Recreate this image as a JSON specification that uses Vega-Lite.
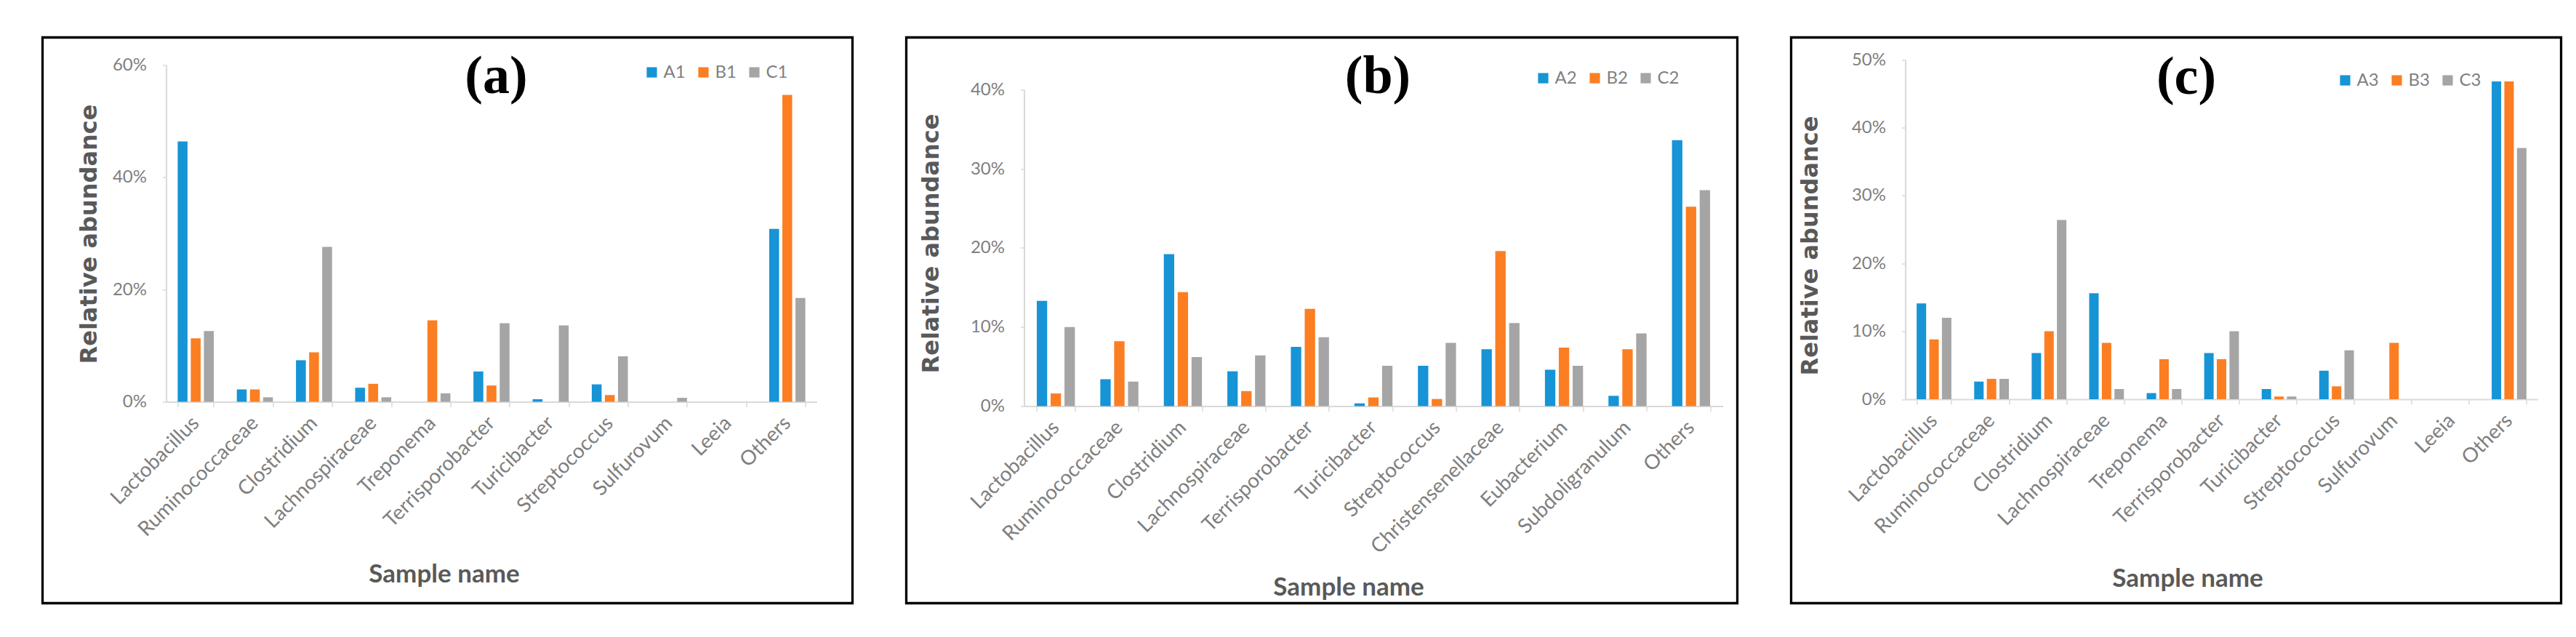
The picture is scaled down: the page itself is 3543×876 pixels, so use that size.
{
  "$schema": "https://vega.github.io/schema/vega-lite/v6.json",
  "background": "white",
  "padding": {"left": 46.5, "top": 49.5, "right": 5, "bottom": 5},
  "spacing": 60,
  "datasets": {
    "abund": [
      {"panel": "a", "taxon": "Lactobacillus", "sample": "A1", "value": 46.4},
      {"panel": "a", "taxon": "Lactobacillus", "sample": "B1", "value": 11.3},
      {"panel": "a", "taxon": "Lactobacillus", "sample": "C1", "value": 12.6},
      {"panel": "a", "taxon": "Ruminococcaceae", "sample": "A1", "value": 2.2},
      {"panel": "a", "taxon": "Ruminococcaceae", "sample": "B1", "value": 2.2},
      {"panel": "a", "taxon": "Ruminococcaceae", "sample": "C1", "value": 0.8},
      {"panel": "a", "taxon": "Clostridium", "sample": "A1", "value": 7.4},
      {"panel": "a", "taxon": "Clostridium", "sample": "B1", "value": 8.8},
      {"panel": "a", "taxon": "Clostridium", "sample": "C1", "value": 27.6},
      {"panel": "a", "taxon": "Lachnospiraceae", "sample": "A1", "value": 2.5},
      {"panel": "a", "taxon": "Lachnospiraceae", "sample": "B1", "value": 3.2},
      {"panel": "a", "taxon": "Lachnospiraceae", "sample": "C1", "value": 0.8},
      {"panel": "a", "taxon": "Treponema", "sample": "A1", "value": 0},
      {"panel": "a", "taxon": "Treponema", "sample": "B1", "value": 14.5},
      {"panel": "a", "taxon": "Treponema", "sample": "C1", "value": 1.5},
      {"panel": "a", "taxon": "Terrisporobacter", "sample": "A1", "value": 5.4},
      {"panel": "a", "taxon": "Terrisporobacter", "sample": "B1", "value": 2.9},
      {"panel": "a", "taxon": "Terrisporobacter", "sample": "C1", "value": 14.0},
      {"panel": "a", "taxon": "Turicibacter", "sample": "A1", "value": 0.45},
      {"panel": "a", "taxon": "Turicibacter", "sample": "B1", "value": 0},
      {"panel": "a", "taxon": "Turicibacter", "sample": "C1", "value": 13.6},
      {"panel": "a", "taxon": "Streptococcus", "sample": "A1", "value": 3.1},
      {"panel": "a", "taxon": "Streptococcus", "sample": "B1", "value": 1.2},
      {"panel": "a", "taxon": "Streptococcus", "sample": "C1", "value": 8.1},
      {"panel": "a", "taxon": "Sulfurovum", "sample": "A1", "value": 0},
      {"panel": "a", "taxon": "Sulfurovum", "sample": "B1", "value": 0},
      {"panel": "a", "taxon": "Sulfurovum", "sample": "C1", "value": 0.7},
      {"panel": "a", "taxon": "Leeia", "sample": "A1", "value": 0},
      {"panel": "a", "taxon": "Leeia", "sample": "B1", "value": 0},
      {"panel": "a", "taxon": "Leeia", "sample": "C1", "value": 0},
      {"panel": "a", "taxon": "Others", "sample": "A1", "value": 30.8},
      {"panel": "a", "taxon": "Others", "sample": "B1", "value": 54.7},
      {"panel": "a", "taxon": "Others", "sample": "C1", "value": 18.5},

      {"panel": "b", "taxon": "Lactobacillus", "sample": "A2", "value": 13.3},
      {"panel": "b", "taxon": "Lactobacillus", "sample": "B2", "value": 1.6},
      {"panel": "b", "taxon": "Lactobacillus", "sample": "C2", "value": 10.0},
      {"panel": "b", "taxon": "Ruminococcaceae", "sample": "A2", "value": 3.4},
      {"panel": "b", "taxon": "Ruminococcaceae", "sample": "B2", "value": 8.2},
      {"panel": "b", "taxon": "Ruminococcaceae", "sample": "C2", "value": 3.1},
      {"panel": "b", "taxon": "Clostridium", "sample": "A2", "value": 19.2},
      {"panel": "b", "taxon": "Clostridium", "sample": "B2", "value": 14.4},
      {"panel": "b", "taxon": "Clostridium", "sample": "C2", "value": 6.2},
      {"panel": "b", "taxon": "Lachnospiraceae", "sample": "A2", "value": 4.4},
      {"panel": "b", "taxon": "Lachnospiraceae", "sample": "B2", "value": 1.9},
      {"panel": "b", "taxon": "Lachnospiraceae", "sample": "C2", "value": 6.4},
      {"panel": "b", "taxon": "Terrisporobacter", "sample": "A2", "value": 7.5},
      {"panel": "b", "taxon": "Terrisporobacter", "sample": "B2", "value": 12.3},
      {"panel": "b", "taxon": "Terrisporobacter", "sample": "C2", "value": 8.7},
      {"panel": "b", "taxon": "Turicibacter", "sample": "A2", "value": 0.35},
      {"panel": "b", "taxon": "Turicibacter", "sample": "B2", "value": 1.1},
      {"panel": "b", "taxon": "Turicibacter", "sample": "C2", "value": 5.1},
      {"panel": "b", "taxon": "Streptococcus", "sample": "A2", "value": 5.1},
      {"panel": "b", "taxon": "Streptococcus", "sample": "B2", "value": 0.9},
      {"panel": "b", "taxon": "Streptococcus", "sample": "C2", "value": 8.0},
      {"panel": "b", "taxon": "Christensenellaceae", "sample": "A2", "value": 7.2},
      {"panel": "b", "taxon": "Christensenellaceae", "sample": "B2", "value": 19.6},
      {"panel": "b", "taxon": "Christensenellaceae", "sample": "C2", "value": 10.5},
      {"panel": "b", "taxon": "Eubacterium", "sample": "A2", "value": 4.6},
      {"panel": "b", "taxon": "Eubacterium", "sample": "B2", "value": 7.4},
      {"panel": "b", "taxon": "Eubacterium", "sample": "C2", "value": 5.1},
      {"panel": "b", "taxon": "Subdoligranulum", "sample": "A2", "value": 1.3},
      {"panel": "b", "taxon": "Subdoligranulum", "sample": "B2", "value": 7.2},
      {"panel": "b", "taxon": "Subdoligranulum", "sample": "C2", "value": 9.2},
      {"panel": "b", "taxon": "Others", "sample": "A2", "value": 33.6},
      {"panel": "b", "taxon": "Others", "sample": "B2", "value": 25.2},
      {"panel": "b", "taxon": "Others", "sample": "C2", "value": 27.3},

      {"panel": "c", "taxon": "Lactobacillus", "sample": "A3", "value": 14.1},
      {"panel": "c", "taxon": "Lactobacillus", "sample": "B3", "value": 8.8},
      {"panel": "c", "taxon": "Lactobacillus", "sample": "C3", "value": 12.0},
      {"panel": "c", "taxon": "Ruminococcaceae", "sample": "A3", "value": 2.6},
      {"panel": "c", "taxon": "Ruminococcaceae", "sample": "B3", "value": 3.0},
      {"panel": "c", "taxon": "Ruminococcaceae", "sample": "C3", "value": 3.0},
      {"panel": "c", "taxon": "Clostridium", "sample": "A3", "value": 6.8},
      {"panel": "c", "taxon": "Clostridium", "sample": "B3", "value": 10.0},
      {"panel": "c", "taxon": "Clostridium", "sample": "C3", "value": 26.4},
      {"panel": "c", "taxon": "Lachnospiraceae", "sample": "A3", "value": 15.6},
      {"panel": "c", "taxon": "Lachnospiraceae", "sample": "B3", "value": 8.3},
      {"panel": "c", "taxon": "Lachnospiraceae", "sample": "C3", "value": 1.5},
      {"panel": "c", "taxon": "Treponema", "sample": "A3", "value": 0.9},
      {"panel": "c", "taxon": "Treponema", "sample": "B3", "value": 5.9},
      {"panel": "c", "taxon": "Treponema", "sample": "C3", "value": 1.5},
      {"panel": "c", "taxon": "Terrisporobacter", "sample": "A3", "value": 6.8},
      {"panel": "c", "taxon": "Terrisporobacter", "sample": "B3", "value": 5.9},
      {"panel": "c", "taxon": "Terrisporobacter", "sample": "C3", "value": 10.0},
      {"panel": "c", "taxon": "Turicibacter", "sample": "A3", "value": 1.5},
      {"panel": "c", "taxon": "Turicibacter", "sample": "B3", "value": 0.4},
      {"panel": "c", "taxon": "Turicibacter", "sample": "C3", "value": 0.4},
      {"panel": "c", "taxon": "Streptococcus", "sample": "A3", "value": 4.2},
      {"panel": "c", "taxon": "Streptococcus", "sample": "B3", "value": 1.9},
      {"panel": "c", "taxon": "Streptococcus", "sample": "C3", "value": 7.2},
      {"panel": "c", "taxon": "Sulfurovum", "sample": "A3", "value": 0},
      {"panel": "c", "taxon": "Sulfurovum", "sample": "B3", "value": 8.3},
      {"panel": "c", "taxon": "Sulfurovum", "sample": "C3", "value": 0},
      {"panel": "c", "taxon": "Leeia", "sample": "A3", "value": 0},
      {"panel": "c", "taxon": "Leeia", "sample": "B3", "value": 0},
      {"panel": "c", "taxon": "Leeia", "sample": "C3", "value": 0},
      {"panel": "c", "taxon": "Others", "sample": "A3", "value": 46.8},
      {"panel": "c", "taxon": "Others", "sample": "B3", "value": 46.8},
      {"panel": "c", "taxon": "Others", "sample": "C3", "value": 37.0}
    ]
  },
  "data": {"name": "abund"},
  "hconcat": [
    {
      "width": 1114, "height": 778,
      "title": {"text": "(a)", "dx": 67, "dy": 96},
      "transform": [{"filter": "datum.panel == 'a'"}],
      "mark": {"type": "bar"},
      "encoding": {
        "x": {"field": "taxon", "type": "nominal", "sort": null,
          "scale": {"range": [170, 1065], "paddingInner": 0.39, "paddingOuter": 0.195},
          "axis": {"title": "Sample name", "offset": -277, "titleX": 552, "titleY": 237}},
        "xOffset": {"field": "sample", "type": "nominal", "scale": {"paddingInner": 0.25, "paddingOuter": 0}},
        "y": {"field": "value", "type": "quantitative",
          "scale": {"domain": [0, 60], "range": [501, 38], "nice": false},
          "axis": {"title": "Relative abundance", "values": [0, 20, 40, 60], "offset": -170, "titleX": -106, "titleY": 270}},
        "color": {"field": "sample", "type": "nominal",
          "scale": {"range": ["#1694d6", "#fc7e22", "#a5a5a5"]},
          "legend": {"orient": "none", "legendX": 826, "legendY": 36}}
      }
    },
    {
      "width": 1143, "height": 778,
      "title": {"text": "(b)", "dx": 77, "dy": 96},
      "transform": [{"filter": "datum.panel == 'b'"}],
      "mark": {"type": "bar"},
      "encoding": {
        "x": {"field": "taxon", "type": "nominal", "sort": null,
          "scale": {"range": [162, 1123], "paddingInner": 0.4, "paddingOuter": 0.2},
          "axis": {"title": "Sample name", "offset": -271, "titleX": 608, "titleY": 249}},
        "xOffset": {"field": "sample", "type": "nominal", "scale": {"paddingInner": 0.25, "paddingOuter": 0}},
        "y": {"field": "value", "type": "quantitative",
          "scale": {"domain": [0, 40], "range": [507, 71.7], "nice": false},
          "axis": {"title": "Relative abundance", "values": [0, 10, 20, 30, 40], "offset": -162, "titleX": -128, "titleY": 283}},
        "color": {"field": "sample", "type": "nominal",
          "scale": {"range": ["#1694d6", "#fc7e22", "#a5a5a5"]},
          "legend": {"orient": "none", "legendX": 864, "legendY": 44}}
      }
    },
    {
      "width": 1059, "height": 778,
      "title": {"text": "(c)", "dx": 14, "dy": 97},
      "transform": [{"filter": "datum.panel == 'c'"}],
      "mark": {"type": "bar"},
      "encoding": {
        "x": {"field": "taxon", "type": "nominal", "sort": null,
          "scale": {"range": [157, 1027], "paddingInner": 0.396, "paddingOuter": 0.198},
          "axis": {"title": "Sample name", "offset": -280.5, "titleX": 545, "titleY": 246}},
        "xOffset": {"field": "sample", "type": "nominal", "scale": {"paddingInner": 0.25, "paddingOuter": 0}},
        "y": {"field": "value", "type": "quantitative",
          "scale": {"domain": [0, 50], "range": [497.5, 30.6], "nice": false},
          "axis": {"title": "Relative abundance", "values": [0, 10, 20, 30, 40, 50], "offset": -157, "titleX": -131, "titleY": 286}},
        "color": {"field": "sample", "type": "nominal",
          "scale": {"range": ["#1694d6", "#fc7e22", "#a5a5a5"]},
          "legend": {"orient": "none", "legendX": 750, "legendY": 47}}
      }
    }
  ],
  "resolve": {"scale": {"color": "independent", "x": "independent", "y": "independent", "xOffset": "independent"}},
  "config": {
    "view": {"stroke": "black", "strokeWidth": 3.3},
    "axis": {
      "grid": false,
      "labelFont": "Lato", "labelColor": "#7f7f7f",
      "domainColor": "#d9d9d9", "domainWidth": 2,
      "tickColor": "#d9d9d9", "tickWidth": 1.5,
      "titleColor": "#595959"
    },
    "axisX": {
      "labelAngle": -45, "labelAlign": "right", "labelBaseline": "middle",
      "labelFontSize": 28, "labelLimit": 500, "labelOverlap": false, "labelPadding": 18,
      "tickBand": "extent", "tickSize": 7,
      "titleFont": "Lato", "titleFontWeight": "bold", "titleFontSize": 35,
      "titleBaseline": "middle", "titleAlign": "center", "titleAngle": 0
    },
    "axisY": {
      "labelFontSize": 24, "labelPadding": 22, "tickSize": 5,
      "labelExpr": "datum.value + '%'",
      "titleFont": "DejaVu Sans", "titleFontWeight": "bold", "titleFontSize": 32,
      "titleBaseline": "middle", "titleAlign": "center", "titleAngle": -90
    },
    "legend": {
      "direction": "horizontal", "title": null,
      "symbolType": "square", "symbolSize": 200, "symbolStrokeWidth": 0,
      "labelFont": "Lato", "labelFontSize": 24, "labelColor": "#7f7f7f",
      "labelOffset": 4, "columnPadding": 12
    },
    "title": {
      "font": "Liberation Serif", "fontWeight": "bold", "fontSize": 74,
      "color": "black", "anchor": "middle", "baseline": "middle", "offset": 0
    }
  }
}
